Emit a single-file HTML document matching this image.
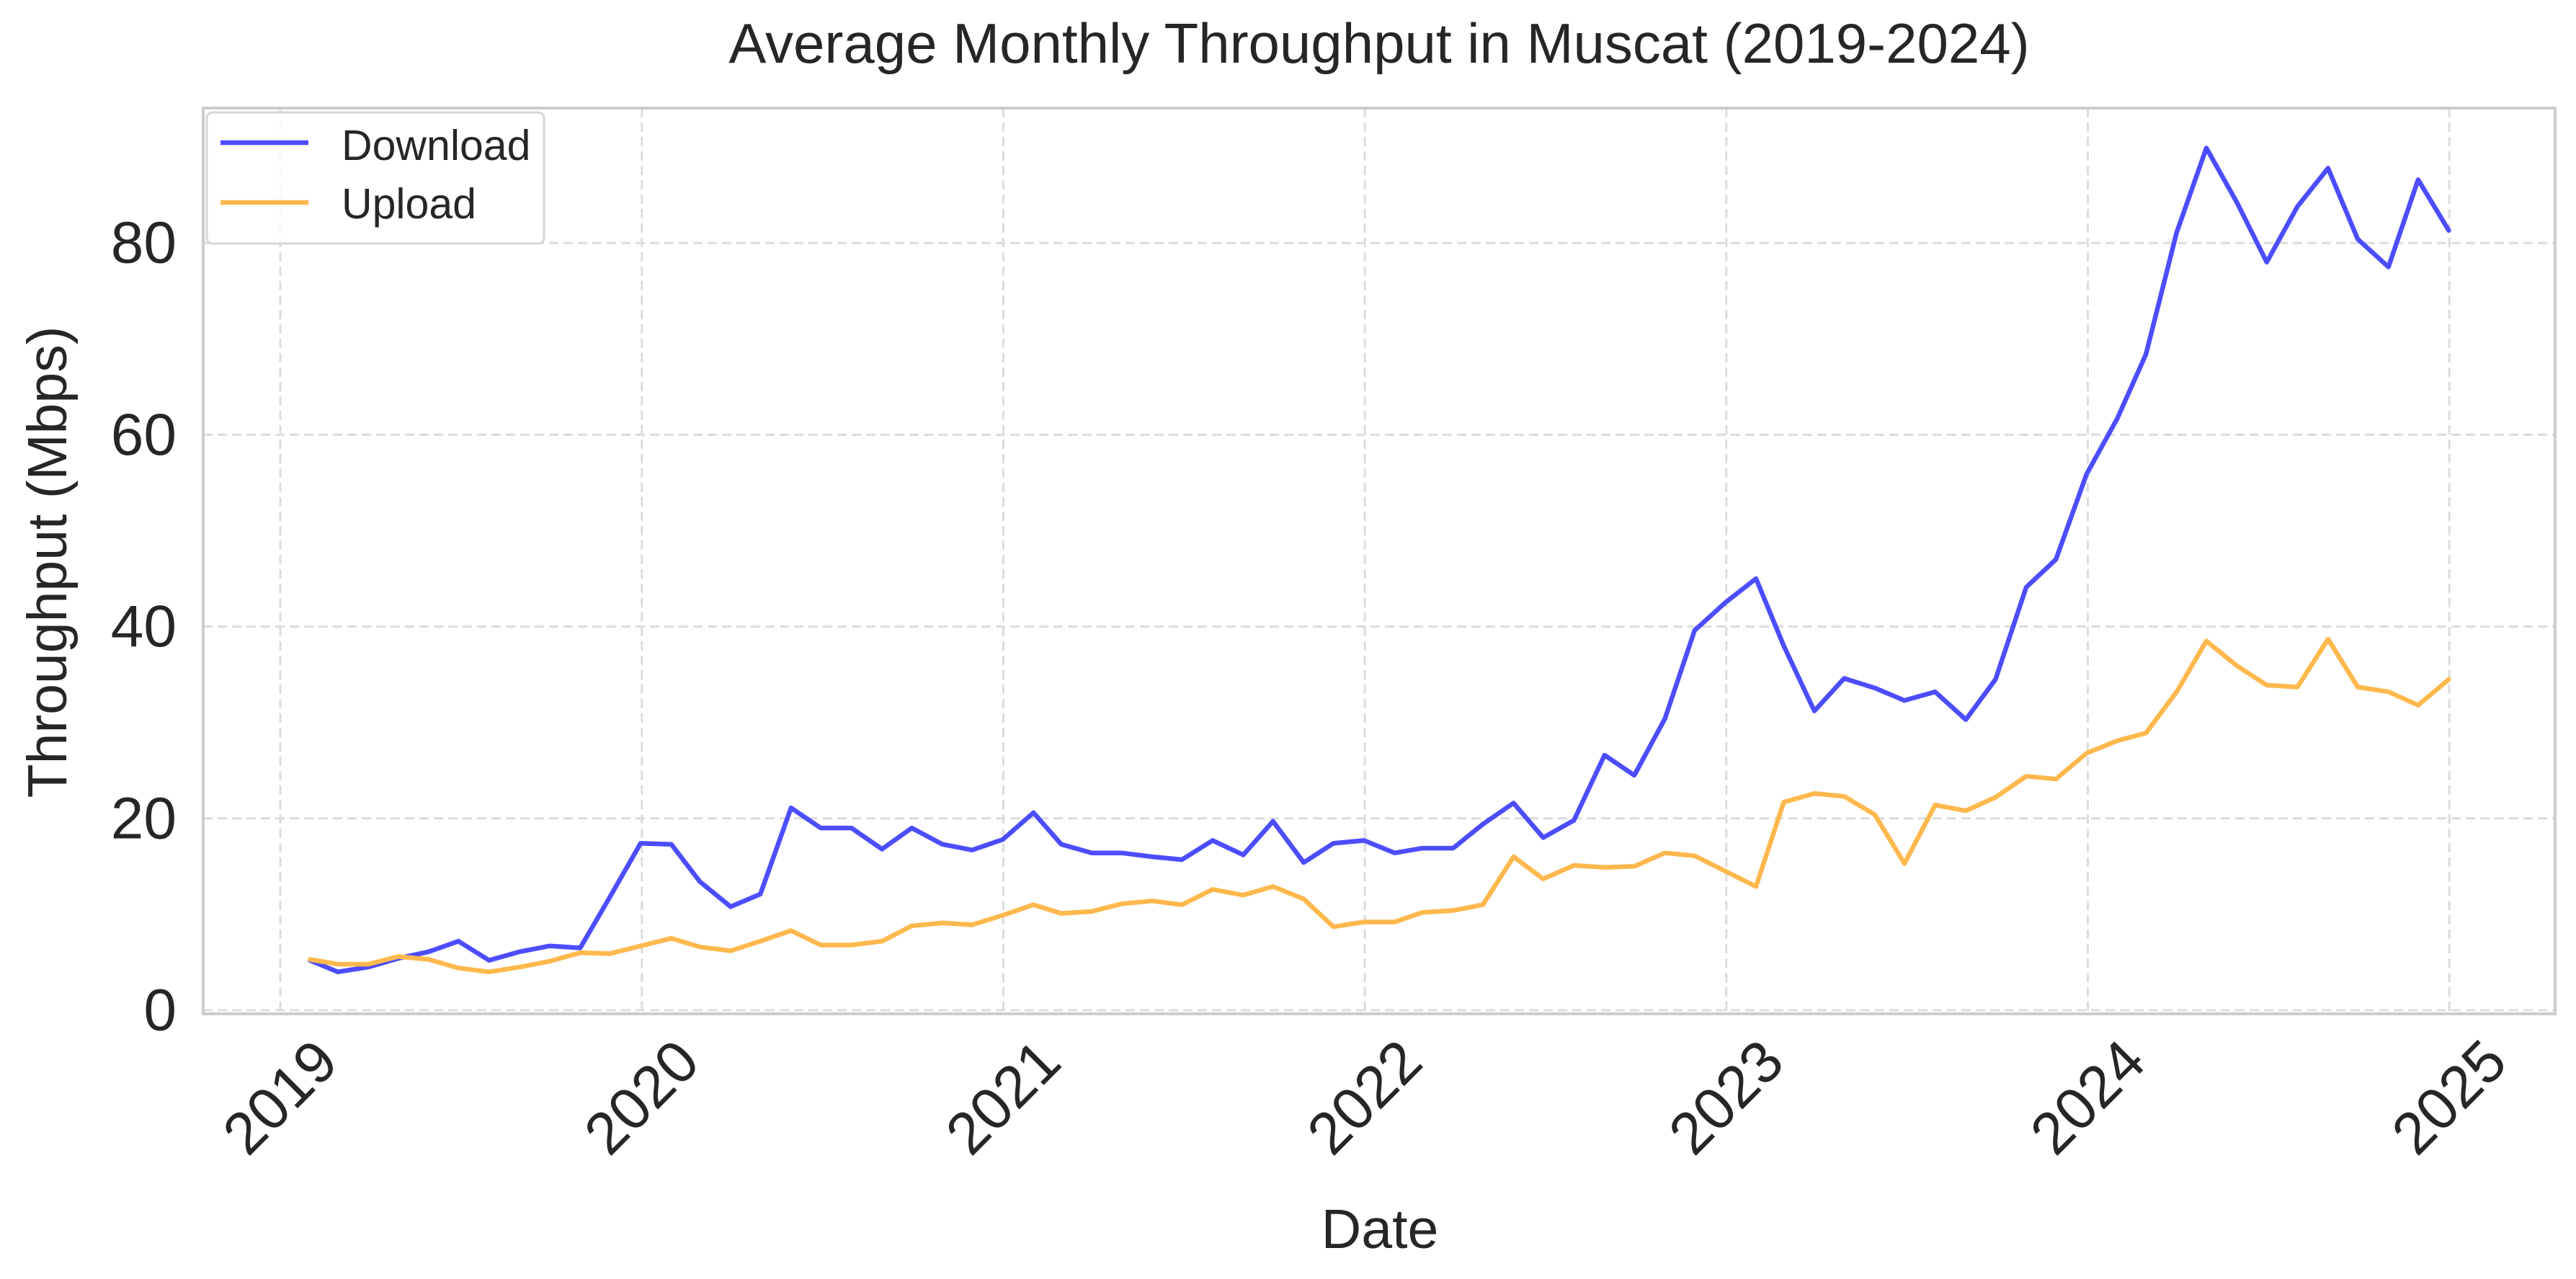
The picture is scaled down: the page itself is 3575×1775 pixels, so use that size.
<!DOCTYPE html>
<html><head><meta charset="utf-8"><style>
html,body{margin:0;padding:0;background:#fff;}
svg{display:block;font-family:"Liberation Sans",Arial,sans-serif;}
</style></head><body>
<svg id="chart" width="3575" height="1775" viewBox="0 0 3575 1775" xmlns="http://www.w3.org/2000/svg">
<rect x="0" y="0" width="3575" height="1775" fill="#fff"/>
<text x="1914" y="87" font-size="78" text-anchor="middle" fill="#262626">Average Monthly Throughput in Muscat (2019-2024)</text>
<g id="grid"></g>
<g id="series"></g>
<rect x="282" y="150" width="3264" height="1257" fill="none" stroke="#cccccc" stroke-width="4"/>
<g id="ticks"></g>
<text x="1915" y="1732" font-size="77" text-anchor="middle" fill="#262626">Date</text>
<text transform="translate(92,780) rotate(-90)" font-size="77" text-anchor="middle" fill="#262626">Throughput (Mbps)</text>
<g>
<rect x="287" y="156" width="468" height="182" rx="8" fill="#fff" fill-opacity="0.8" stroke="#d6d6d6" stroke-width="3"/>
<g>
<line x1="306" y1="198" x2="428" y2="198" stroke="#4d4dff" stroke-width="6.5"/>
<text x="474" y="222" font-size="59" fill="#262626">Download</text></g>
<g>
<line x1="306" y1="281" x2="428" y2="281" stroke="#ffb84d" stroke-width="6.5"/>
<text x="474" y="303" font-size="59" fill="#262626">Upload</text></g>
</g>
</svg>
<script>
const years = [2019,2020,2021,2022,2023,2024,2025];
const yTicks = [0,20,40,60,80];
const download = [5.2,4.0,4.5,5.4,6.1,7.2,5.2,6.1,6.7,6.5,11.8,17.4,
17.3,13.4,10.8,12.1,21.1,19.0,19.0,16.8,19.0,17.3,16.7,17.8,
20.6,17.3,16.4,16.4,16.0,15.7,17.7,16.2,19.7,15.4,17.4,17.7,
16.4,16.9,16.9,19.4,21.6,18.0,19.8,26.6,24.5,30.4,39.6,42.5,
45.0,38.0,31.2,34.6,33.6,32.3,33.2,30.3,34.5,44.1,47.0,55.9,
61.7,68.4,81.1,89.9,84.2,78.0,83.8,87.8,80.4,77.5,86.6,81.3];
const upload = [5.3,4.8,4.8,5.6,5.3,4.4,4.0,4.5,5.1,6.0,5.9,6.7,
7.5,6.6,6.2,7.2,8.3,6.8,6.8,7.2,8.8,9.1,8.9,9.9,
11.0,10.1,10.3,11.1,11.4,11.0,12.6,12.0,12.9,11.6,8.7,9.2,
9.2,10.2,10.4,11.0,16.0,13.7,15.1,14.9,15.0,16.4,16.1,14.5,
12.9,21.7,22.6,22.3,20.4,15.3,21.4,20.8,22.2,24.4,24.1,26.8,
28.1,28.9,33.2,38.5,35.9,33.9,33.7,38.7,33.7,33.2,31.8,34.5];
const startYear = 2019;

const NS = "http://www.w3.org/2000/svg";
const L = 282, R = 3546, T = 150, B = 1407;
const x2019 = 389, pxPerYear = 501.7;
const y0 = 1402, pxPerUnit = 13.31;
function xYear(y){ return x2019 + (y - 2019) * pxPerYear; }
function xMonth(i){
  const yr = startYear + Math.floor(i/12), m = i % 12;
  const d = new Date(Date.UTC(yr, m+1, 0));
  const s = Date.UTC(2019,0,1);
  return x2019 + (d - s) / (365.25*86400000) * pxPerYear;
}
function yVal(v){ return y0 - v * pxPerUnit; }
function mk(tag, attrs, parent){ const e=document.createElementNS(NS,tag); for(const k in attrs) e.setAttribute(k,attrs[k]); parent.appendChild(e); return e; }

const grid = document.getElementById('grid');
const ticks = document.getElementById('ticks');
years.forEach(y=>{
  const x = xYear(y);
  const g = mk('line',{x1:x,x2:x,y1:T,y2:B,stroke:'#dcdcdc','stroke-width':3,'stroke-dasharray':'13,7'},grid);
  
  
  const t = mk('text',{x:0,y:0,'font-size':82,'text-anchor':'middle','dominant-baseline':'central',fill:'#262626',transform:`translate(${x},1523) rotate(-45)`},ticks);
  t.textContent = y;
  
  
});
yTicks.forEach(v=>{
  const y = yVal(v);
  const g = mk('line',{x1:L,x2:R,y1:y,y2:y,stroke:'#dcdcdc','stroke-width':3,'stroke-dasharray':'13,7'},grid);
  
  
  const t = mk('text',{x:245,y:y,'font-size':82,'text-anchor':'end','dominant-baseline':'central',fill:'#262626'},ticks);
  t.textContent = v;
  
  
});
const series = document.getElementById('series');
function drawLine(arr, color, name){
  const pts = arr.map((v,i)=>xMonth(i).toFixed(1)+','+yVal(v).toFixed(1)).join(' ');
  const p = mk('polyline',{points:pts,fill:'none',stroke:color,'stroke-width':6.5,'stroke-linejoin':'round','stroke-linecap':'round'},series);
  
  
}
drawLine(download,'#4d4dff','download-line');
drawLine(upload,'#ffb84d','upload-line');
</script>
</body></html>
